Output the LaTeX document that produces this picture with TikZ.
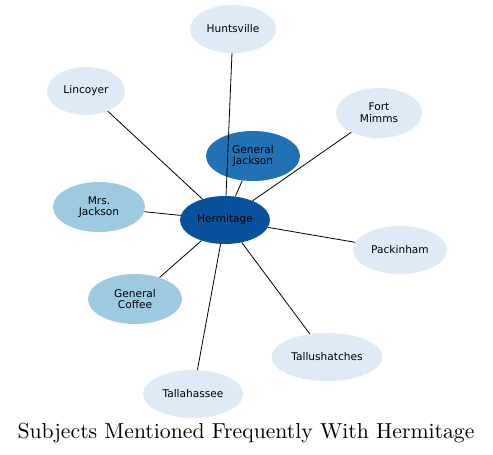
\documentclass[tikz,border=0pt]{standalone}
\usepackage{fontspec}
\newfontfamily\labelfont{DejaVu Sans}
\newfontfamily\titlefont{lmroman10-regular.otf}
\usetikzlibrary{shapes.geometric}
\definecolor{cdark}{HTML}{08519C}
\definecolor{cmid}{HTML}{2171B5}
\definecolor{clight}{HTML}{9ECAE1}
\definecolor{cpale}{HTML}{DEEBF7}
\tikzset{
  bub/.style={ellipse, inner sep=0pt, draw=none, font=\labelfont\fontsize{10.6}{11.6}\selectfont, align=center},
  link/.style={draw=black, line width=0.8pt},
}
\begin{document}
\begin{tikzpicture}[x=1pt,y=-1pt]
\useasboundingbox (0,0) rectangle (493,455);
\node[bub, fill=cmid, minimum width=94pt, minimum height=50pt] (gj) at (253,156) {General\\Jackson};
\node[bub, fill=cdark, minimum width=90pt, minimum height=48pt] (herm) at (225,220) {Hermitage};
\node[bub, fill=cpale, minimum width=86pt, minimum height=48pt] (hunt) at (233,29) {Huntsville};
\node[bub, fill=cpale, minimum width=78pt, minimum height=48pt] (linc) at (86,91) {Lincoyer};
\node[bub, fill=cpale, minimum width=86pt, minimum height=50pt] (fort) at (379,113) {Fort\\Mimms};
\node[bub, fill=clight, minimum width=92pt, minimum height=50pt] (mrs) at (99,207) {Mrs.\\Jackson};
\node[bub, fill=cpale, minimum width=94pt, minimum height=48pt] (pack) at (400,250) {Packinham};
\node[bub, fill=clight, minimum width=94pt, minimum height=50pt] (coff) at (135,299) {General\\Coffee};
\node[bub, fill=cpale, minimum width=111pt, minimum height=48pt] (tallu) at (327,357) {Tallushatches};
\node[bub, fill=cpale, minimum width=100pt, minimum height=48pt] (talla) at (193,394) {Tallahassee};
\draw[link] (herm) -- (gj);
\draw[link] (herm) -- (hunt);
\draw[link] (herm) -- (linc);
\draw[link] (herm) -- (fort);
\draw[link] (herm) -- (mrs);
\draw[link] (herm) -- (pack);
\draw[link] (herm) -- (coff);
\draw[link] (herm) -- (tallu);
\draw[link] (herm) -- (talla);
\node[font=\titlefont\fontsize{21.7}{24}\selectfont] (title) at (246,433) {Subjects Mentioned Frequently With Hermitage};
\end{tikzpicture}
\end{document}
